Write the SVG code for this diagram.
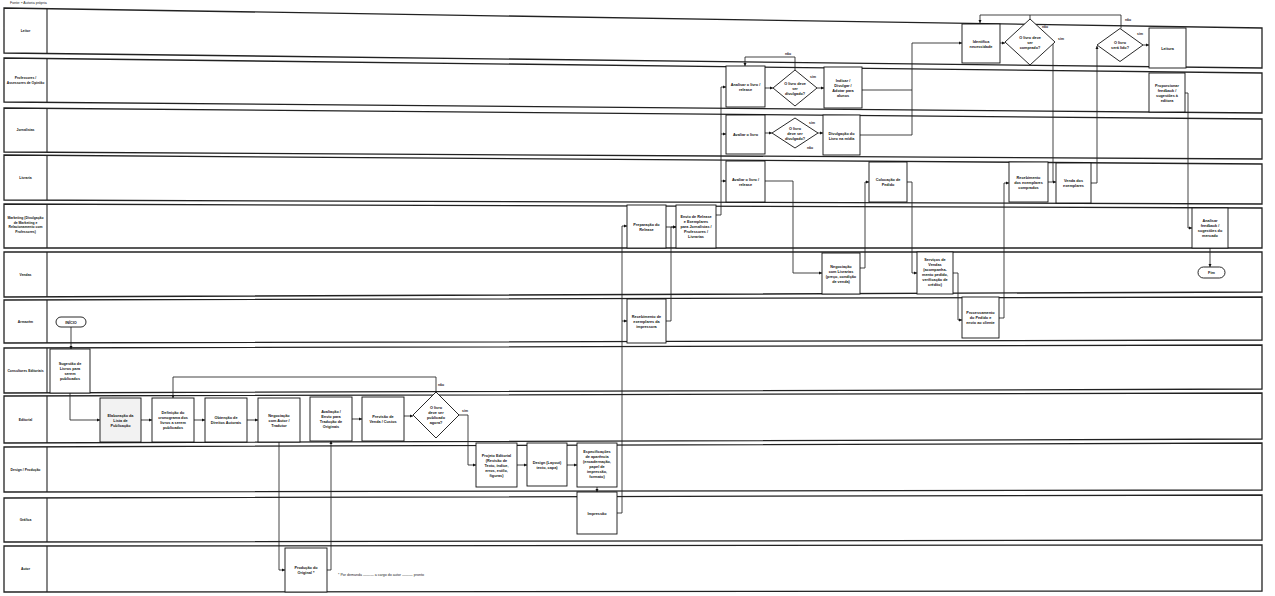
<svg xmlns="http://www.w3.org/2000/svg" width="1275" height="596" viewBox="0 0 1275 596">
<style>
.lane{fill:#fff;stroke:#222;stroke-width:1.3}
.div{stroke:#222;stroke-width:1.1}
.lt{font-family:"Liberation Sans",Arial,sans-serif;font-size:3.4px;font-weight:bold;fill:#111;text-anchor:middle}
.n rect,.n polygon{fill:#fff;stroke:#111;stroke-width:0.9}
.n text{font-family:"Liberation Sans",Arial,sans-serif;font-size:3.8px;font-weight:bold;fill:#111;text-anchor:middle}
.c path{fill:none;stroke:#222;stroke-width:0.85;marker-end:url(#a)}
.c path.p{marker-end:none}
.lb{font-family:"Liberation Sans",Arial,sans-serif;font-size:3.4px;font-weight:bold;fill:#222;text-anchor:middle}
.note{font-family:"Liberation Sans",Arial,sans-serif;font-size:3.6px;fill:#222}
</style>
<defs>
<marker id="a" viewBox="0 0 6 6" refX="6" refY="3" markerUnits="userSpaceOnUse" markerWidth="3.2" markerHeight="3.2" orient="auto"><path d="M0,0 L6,3 L0,6z" fill="#111"/></marker>
</defs>
<rect width="1275" height="596" fill="#fff"/>
<text class="note" x="10" y="4">Fonte:  ▪  Autoria própria</text>

<g id="lanes">
<polygon class="lane" points="4,8 1262,28 1262,68 4,53"/><line class="div" x1="47" y1="9" x2="47" y2="54"/>
<text class="lt" x="25.5" y="32">Leitor</text>
<polygon class="lane" points="4,58 1262,73 1262,113 4,102"/><line class="div" x1="47" y1="59" x2="47" y2="103"/>
<text class="lt" x="25.5" y="79">Professores /</text><text class="lt" x="25.5" y="83.5">Assessores de Opinião</text>
<polygon class="lane" points="4,108 1262,119 1262,159 4,152"/><line class="div" x1="47" y1="108" x2="47" y2="152"/>
<text class="lt" x="25.5" y="131">Jornalistas</text>
<polygon class="lane" points="4,155 1262,164 1262,204 4,200"/><line class="div" x1="47" y1="155" x2="47" y2="200"/>
<text class="lt" x="25.5" y="179">Livraria</text>
<polygon class="lane" points="4,204 1262,208 1262,248 4,248"/><line class="div" x1="47" y1="204" x2="47" y2="248"/>
<text class="lt" x="25.5" y="219">Marketing (Divulgação</text><text class="lt" x="25.5" y="223.5">de Marketing e</text><text class="lt" x="25.5" y="228">Relacionamento com</text><text class="lt" x="25.5" y="232.5">Professores)</text>
<polygon class="lane" points="4,252 1262,252 1262,292 4,297"/><line class="div" x1="47" y1="252" x2="47" y2="297"/>
<text class="lt" x="25.5" y="276">Vendas</text>
<polygon class="lane" points="4,300 1262,297 1262,340 4,343"/><line class="div" x1="47" y1="300" x2="47" y2="343"/>
<text class="lt" x="25.5" y="323">Armazém</text>
<polygon class="lane" points="4,348 1262,345 1262,389 4,393"/><line class="div" x1="47" y1="348" x2="47" y2="393"/>
<text class="lt" x="25.5" y="372">Consultores Editoriais</text>
<polygon class="lane" points="4,396 1262,393 1262,439 4,443"/><line class="div" x1="47" y1="396" x2="47" y2="443"/>
<text class="lt" x="25.5" y="421">Editorial</text>
<polygon class="lane" points="4,447 1262,443 1262,490 4,492"/><line class="div" x1="47" y1="447" x2="47" y2="492"/>
<text class="lt" x="25.5" y="471">Design / Produção</text>
<polygon class="lane" points="4,498 1262,495 1262,540 4,542"/><line class="div" x1="47" y1="498" x2="47" y2="542"/>
<text class="lt" x="25.5" y="521">Gráfica</text>
<polygon class="lane" points="4,546 1262,545 1262,591 4,592"/><line class="div" x1="47" y1="546" x2="47" y2="592"/>
<text class="lt" x="25.5" y="570">Autor</text>
</g>

<g id="connectors" class="c">
<path d="M71,327 V349"/>
<path d="M70,393 V420 H100"/>
<path d="M141,420 H152"/>
<path d="M194,420 H205"/>
<path d="M247,420 H258"/>
<path d="M352,419 H362"/>
<path d="M404,416 H413"/>
<path d="M436,392 V377 H173 V398"/>
<path d="M459,415 H468 V465 H476"/>
<path d="M517,465 H527"/>
<path d="M567,465 H577"/>
<path d="M597,487 V492"/>
<path d="M279,442 V570 H285"/>
<path d="M327,570 H331 V441"/>
<path d="M617,513 H622 V226 H627"/>
<path d="M622,321 H627"/>
<path d="M666,321 H671 V227 H676"/>
<path d="M666,227 H676"/>
<path class="p" d="M716,215 H721 V87"/>
<path d="M721,87 H726"/>
<path d="M721,134 H726"/>
<path d="M721,181 H726"/>
<path d="M765,88 H773"/>
<path d="M817,88 H824"/>
<path d="M795,70 V57 H745 V66"/>
<path d="M765,133 H772"/>
<path d="M818,133 H823"/>
<path d="M765,181 H793 V273 H822"/>
<path d="M860,268 H865 V182 H869"/>
<path d="M907,182 H912 V273 H917"/>
<path d="M862,90 H912 V43 H962"/>
<path class="p" d="M860,135 H912 V90"/>
<path d="M953,273 H958 V320 H962"/>
<path d="M999,318 H1004 V183 H1009"/>
<path d="M1048,182 H1056"/>
<path class="p" d="M1053,42 V182"/>
<path d="M1091,183 H1097 V46"/>
<path d="M1000,43 H1005"/>
<path d="M1121,28.5 V15 H980 V23"/>
<path class="p" d="M1030,19 V15"/>
<path d="M1143,45 H1149"/>
<path d="M1185,93 H1188 V228 H1192"/>
<path d="M1210,248 V267"/>
<text class="lb" x="441" y="386">não</text>
<text class="lb" x="465" y="412">sim</text>
<text class="lb" x="788" y="55">não</text>
<text class="lb" x="813" y="78">sim</text>
<text class="lb" x="812" y="124">sim</text>
<text class="lb" x="810" y="149">não</text>
<text class="lb" x="1045" y="28">não</text>
<text class="lb" x="1061" y="40">sim</text>
<text class="lb" x="1128" y="21">não</text>
<text class="lb" x="1140" y="35">sim</text>
</g>

<g id="inicio" class="n"><rect x="56" y="317" width="30" height="10" rx="5"/><text x="71" y="323.5">INÍCIO</text></g>
<g id="sugestao" class="n"><rect x="50" y="349" width="40" height="44"/><text x="70" y="365"><tspan x="70">Sugestão de</tspan><tspan x="70" dy="5">Livros para</tspan><tspan x="70" dy="5">serem</tspan><tspan x="70" dy="5">publicados</tspan></text></g>
<g id="elaboracao" class="n"><rect x="100" y="398" width="41" height="44" style="fill:#f2f2f2"/><text x="120.5" y="416.5"><tspan x="120.5">Elaboração da</tspan><tspan x="120.5" dy="5">Lista de</tspan><tspan x="120.5" dy="5">Publicação</tspan></text></g>
<g id="definicao" class="n"><rect x="152" y="398" width="42" height="44"/><text x="173" y="414"><tspan x="173">Definição do</tspan><tspan x="173" dy="5">cronograma dos</tspan><tspan x="173" dy="5">livros a serem</tspan><tspan x="173" dy="5">publicados</tspan></text></g>
<g id="obtencao" class="n"><rect x="205" y="398" width="42" height="44"/><text x="226" y="419"><tspan x="226">Obtenção de</tspan><tspan x="226" dy="5">Direitos Autorais</tspan></text></g>
<g id="negociacao-autor" class="n"><rect x="258" y="398" width="42" height="44"/><text x="279" y="416.5"><tspan x="279">Negociação</tspan><tspan x="279" dy="5">com Autor /</tspan><tspan x="279" dy="5">Tradutor</tspan></text></g>
<g id="avaliacao" class="n"><rect x="310" y="397" width="42" height="44"/><text x="331" y="413"><tspan x="331">Avaliação /</tspan><tspan x="331" dy="5">Envio para</tspan><tspan x="331" dy="5">Tradução de</tspan><tspan x="331" dy="5">Originais</tspan></text></g>
<g id="previsao" class="n"><rect x="362" y="397" width="42" height="44"/><text x="383" y="418"><tspan x="383">Previsão de</tspan><tspan x="383" dy="5">Venda / Custos</tspan></text></g>
<g id="dec-publicar" class="n"><polygon points="436,392 459,415 436,438 413,415"/><text x="436" y="409"><tspan x="436">O livro</tspan><tspan x="436" dy="5">deve ser</tspan><tspan x="436" dy="5">publicado</tspan><tspan x="436" dy="5">agora?</tspan></text></g>
<g id="projeto" class="n"><rect x="476" y="443" width="41" height="44"/><text x="496.5" y="456.5"><tspan x="496.5">Projeto Editorial</tspan><tspan x="496.5" dy="5">(Revisão de</tspan><tspan x="496.5" dy="5">Texto, índice,</tspan><tspan x="496.5" dy="5">erros, estilo,</tspan><tspan x="496.5" dy="5">figuras)</tspan></text></g>
<g id="design" class="n"><rect x="527" y="443" width="40" height="43"/><text x="547" y="463.5"><tspan x="547">Design (Layout)</tspan><tspan x="547" dy="5">texto, capa)</tspan></text></g>
<g id="especificacoes" class="n"><rect x="577" y="443" width="40" height="44"/><text x="597" y="453"><tspan x="597">Especificações</tspan><tspan x="597" dy="5">de aparência</tspan><tspan x="597" dy="5">(encadernação,</tspan><tspan x="597" dy="5">papel de</tspan><tspan x="597" dy="5">impressão,</tspan><tspan x="597" dy="5">formato)</tspan></text></g>
<g id="impressao" class="n"><rect x="577" y="492" width="40" height="42"/><text x="597" y="514.5">Impressão</text></g>
<g id="producao" class="n"><rect x="285" y="548" width="42" height="44"/><text x="306" y="569"><tspan x="306">Produção do</tspan><tspan x="306" dy="5">Original *</tspan></text></g>
<text class="note" x="338" y="576">* Por demanda ——— a cargo do autor ——— pronto</text>
<g id="recebimento-impressora" class="n"><rect x="627" y="299" width="39" height="44"/><text x="646.5" y="317.5"><tspan x="646.5">Recebimento de</tspan><tspan x="646.5" dy="5">exemplares da</tspan><tspan x="646.5" dy="5">impressora</tspan></text></g>
<g id="preparacao" class="n"><rect x="627" y="205" width="39" height="43"/><text x="646.5" y="225.5"><tspan x="646.5">Preparação do</tspan><tspan x="646.5" dy="5">Release</tspan></text></g>
<g id="envio" class="n"><rect x="676" y="205" width="40" height="43"/><text x="696" y="218"><tspan x="696">Envio de Release</tspan><tspan x="696" dy="5">e Exemplares</tspan><tspan x="696" dy="5">para Jornalistas /</tspan><tspan x="696" dy="5">Professores /</tspan><tspan x="696" dy="5">Livrarias</tspan></text></g>
<g id="analisar-prof" class="n"><rect x="726" y="66" width="39" height="41"/><text x="745.5" y="86"><tspan x="745.5">Analisar o livro /</tspan><tspan x="745.5" dy="5">release</tspan></text></g>
<g id="dec-prof" class="n"><polygon points="795,70 817,88 795,106 773,88"/><text x="795" y="84.5"><tspan x="795">O livro deve</tspan><tspan x="795" dy="5">ser</tspan><tspan x="795" dy="5">divulgado?</tspan></text></g>
<g id="indicar" class="n"><rect x="824" y="67" width="38" height="41"/><text x="843" y="81.5"><tspan x="843">Indicar /</tspan><tspan x="843" dy="5">Divulgar /</tspan><tspan x="843" dy="5">Adotar para</tspan><tspan x="843" dy="5">alunos</tspan></text></g>
<g id="avaliar-jorn" class="n"><rect x="726" y="115" width="39" height="39"/><text x="745.5" y="136">Avaliar o livro</text></g>
<g id="dec-jorn" class="n"><polygon points="795,118 818,133 795,148 772,133"/><text x="795" y="129.5"><tspan x="795">O livro</tspan><tspan x="795" dy="5">deve ser</tspan><tspan x="795" dy="5">divulgado?</tspan></text></g>
<g id="divulgacao" class="n"><rect x="823" y="115" width="37" height="40"/><text x="841.5" y="134.5"><tspan x="841.5">Divulgação do</tspan><tspan x="841.5" dy="5">Livro na mídia</tspan></text></g>
<g id="avaliar-livr" class="n"><rect x="726" y="161" width="39" height="41"/><text x="745.5" y="180.5"><tspan x="745.5">Avaliar o livro /</tspan><tspan x="745.5" dy="5">release</tspan></text></g>
<g id="negociacao-livr" class="n"><rect x="822" y="253" width="38" height="41"/><text x="841" y="267.5"><tspan x="841">Negociação</tspan><tspan x="841" dy="5">com Livrarias</tspan><tspan x="841" dy="5">(preço, condição</tspan><tspan x="841" dy="5">de venda)</tspan></text></g>
<g id="colocacao" class="n"><rect x="869" y="162" width="38" height="40"/><text x="888" y="181"><tspan x="888">Colocação de</tspan><tspan x="888" dy="5">Pedido</tspan></text></g>
<g id="servicos" class="n"><rect x="917" y="252" width="36" height="42"/><text x="935" y="261"><tspan x="935">Serviços de</tspan><tspan x="935" dy="5">Vendas</tspan><tspan x="935" dy="5">(acompanha-</tspan><tspan x="935" dy="5">mento pedido,</tspan><tspan x="935" dy="5">verificação de</tspan><tspan x="935" dy="5">crédito)</tspan></text></g>
<g id="processamento" class="n"><rect x="962" y="297" width="37" height="41"/><text x="980.5" y="314"><tspan x="980.5">Processamento</tspan><tspan x="980.5" dy="5">do Pedido e</tspan><tspan x="980.5" dy="5">envio ao cliente</tspan></text></g>
<g id="recebimento-comprados" class="n"><rect x="1009" y="162" width="39" height="40"/><text x="1028.5" y="178.5"><tspan x="1028.5">Recebimento</tspan><tspan x="1028.5" dy="5">dos exemplares</tspan><tspan x="1028.5" dy="5">comprados</tspan></text></g>
<g id="venda" class="n"><rect x="1056" y="163" width="35" height="40"/><text x="1073.5" y="182"><tspan x="1073.5">Venda dos</tspan><tspan x="1073.5" dy="5">exemplares</tspan></text></g>
<g id="identifica" class="n"><rect x="962" y="24" width="38" height="39"/><text x="981" y="42.5"><tspan x="981">Identifica</tspan><tspan x="981" dy="5">necessidade</tspan></text></g>
<g id="dec-comprado" class="n"><polygon points="1030,19 1055,42 1030,65 1005,42"/><text x="1030" y="38.5"><tspan x="1030">O livro deve</tspan><tspan x="1030" dy="5">ser</tspan><tspan x="1030" dy="5">comprado?</tspan></text></g>
<g id="dec-lido" class="n"><polygon points="1120,28.5 1143,45 1120,61.5 1097,45"/><text x="1120" y="44"><tspan x="1120">O livro</tspan><tspan x="1120" dy="5">será lido?</tspan></text></g>
<g id="leitura" class="n"><rect x="1149" y="28" width="37" height="40"/><text x="1167.5" y="49.5">Leitura</text></g>
<g id="proporcionar" class="n"><rect x="1149" y="73" width="36" height="39"/><text x="1167" y="86.5"><tspan x="1167">Proporcionar</tspan><tspan x="1167" dy="5">feedback /</tspan><tspan x="1167" dy="5">sugestões à</tspan><tspan x="1167" dy="5">editora</tspan></text></g>
<g id="analisar-feedback" class="n"><rect x="1192" y="208" width="36" height="40"/><text x="1210" y="222"><tspan x="1210">Analisar</tspan><tspan x="1210" dy="5">feedback /</tspan><tspan x="1210" dy="5">sugestões do</tspan><tspan x="1210" dy="5">mercado</tspan></text></g>
<g id="fim" class="n"><rect x="1198" y="267" width="27" height="11" rx="5.5"/><text x="1211.5" y="274">Fim</text></g>
</svg>
